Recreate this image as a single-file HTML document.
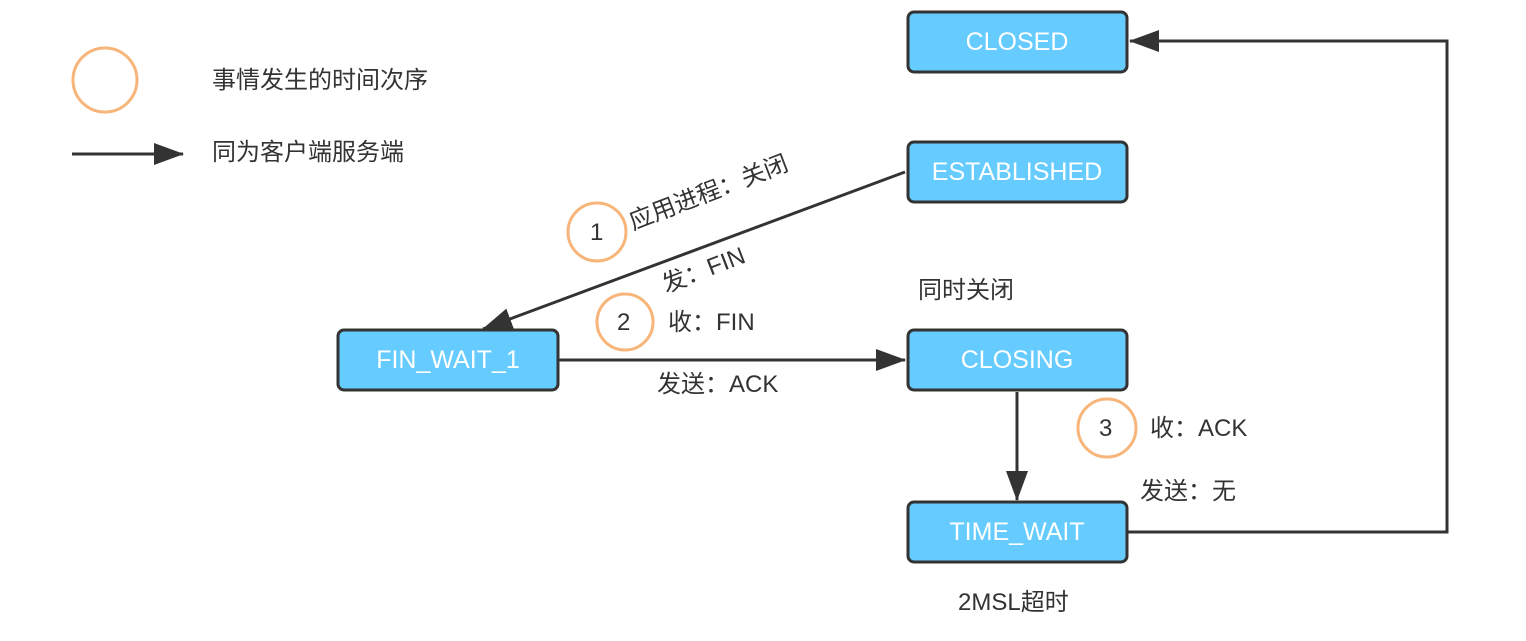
<!DOCTYPE html>
<html><head><meta charset="utf-8"><style>
body{margin:0;background:#fff;}
svg text{font-family:"Liberation Sans","Noto Sans CJK SC",sans-serif;}
</style></head><body>
<svg width="1526" height="636" viewBox="0 0 1526 636" xmlns="http://www.w3.org/2000/svg">
<defs>
<marker id="b" markerWidth="30" markerHeight="22" refX="29" refY="11" orient="auto" markerUnits="userSpaceOnUse"><path d="M0,0 L30,11 L0,22 z" fill="#333"/></marker>
</defs>
<g stroke="#333" stroke-width="3" fill="none">
<line x1="72" y1="154" x2="183" y2="154" marker-end="url(#b)"/>
<line x1="905" y1="172" x2="483" y2="329" marker-end="url(#b)"/>
<line x1="558" y1="360" x2="905" y2="360" marker-end="url(#b)"/>
<line x1="1017" y1="392" x2="1017" y2="500" marker-end="url(#b)"/>
<polyline points="1127,532 1447,532 1447,41 1130,41" marker-end="url(#b)"/>
</g>
<g fill="none" stroke="#f7b57a" stroke-width="3">
<circle cx="105" cy="80" r="32"/>
<circle cx="597" cy="232" r="29"/>
<circle cx="625" cy="322" r="28"/>
<circle cx="1107" cy="428" r="29"/>
</g>
<g fill="#66ccff" stroke="#333" stroke-width="3">
<rect x="908" y="12" width="219" height="60" rx="6"/>
<rect x="908" y="142" width="219" height="60" rx="6"/>
<rect x="338" y="330" width="220" height="60" rx="6"/>
<rect x="908" y="330" width="219" height="60" rx="6"/>
<rect x="908" y="502" width="219" height="60" rx="6"/>
</g>
<g fill="#fff" font-size="25" text-anchor="middle">
<text x="1017" y="50">CLOSED</text>
<text x="1017" y="180">ESTABLISHED</text>
<text x="448" y="368">FIN_WAIT_1</text>
<text x="1017" y="368">CLOSING</text>
<text x="1017" y="540">TIME_WAIT</text>
</g>
<g fill="#333" font-size="24">
<text x="212" y="88">事情发生的时间次序</text>
<text x="212" y="160">同为客户端服务端</text>
<text x="918" y="298">同时关闭</text>
<text x="668" y="330">收：FIN</text>
<text x="657" y="392">发送：ACK</text>
<text x="1150" y="436">收：ACK</text>
<text x="1140" y="499">发送：无</text>
<text x="958" y="610">2MSL超时</text>
<text transform="translate(633,230) rotate(-21)">应用进程：关闭</text>
<text transform="translate(666,293) rotate(-21)">发：FIN</text>
<text x="590" y="240">1</text>
<text x="617" y="330">2</text>
<text x="1099" y="436">3</text>
</g>
</svg>
</body></html>
